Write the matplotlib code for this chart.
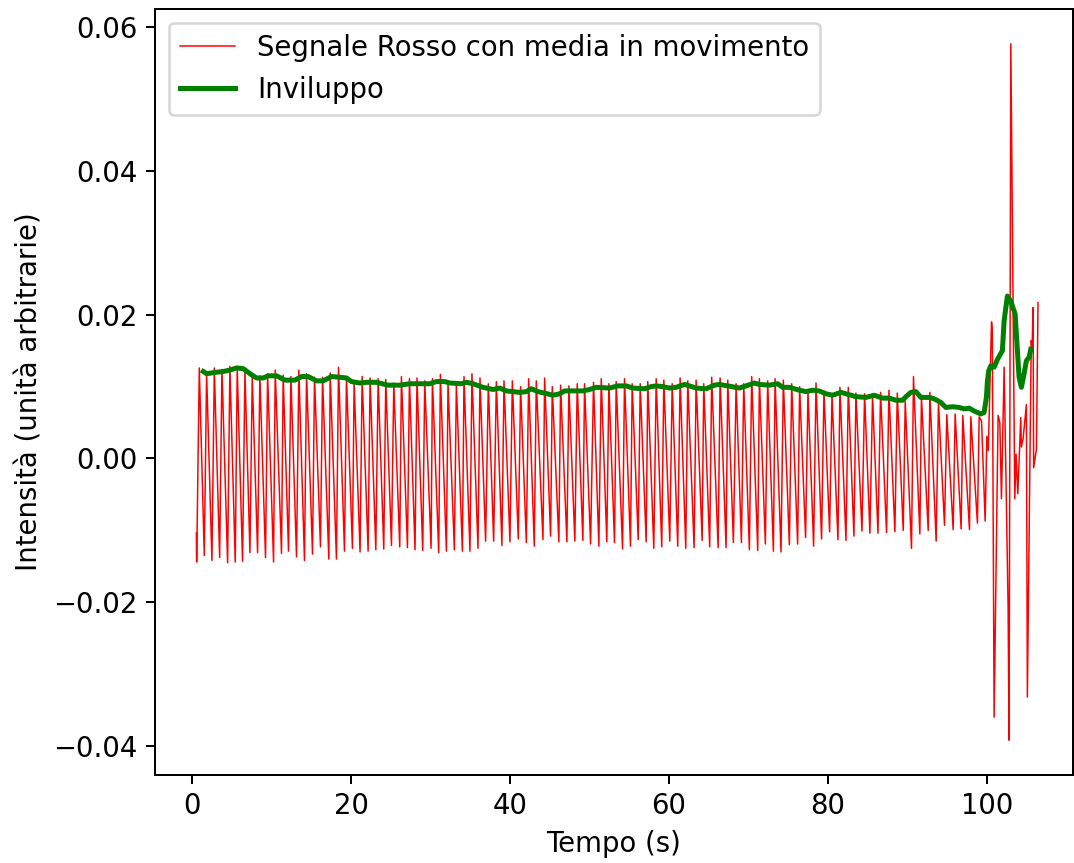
import numpy as np
import matplotlib
matplotlib.use("Agg")
import matplotlib.pyplot as plt

plt.rcParams['font.size'] = 11

# picchi e minimi del segnale rosso (tempo in s, intensita')
t_picchi = [0.92, 1.84, 2.81, 3.77, 4.77, 5.69, 6.66, 7.58, 8.54, 9.51,
            10.47, 11.47, 12.44, 13.44, 14.41, 15.41, 16.42, 17.38, 18.43, 19.43,
            20.39, 21.40, 22.40, 23.41, 24.37, 25.38, 26.34, 27.35, 28.30, 29.27,
            30.24, 31.24, 32.20, 33.25, 34.21, 35.21, 36.22, 37.27, 38.28, 39.24,
            40.29, 41.33, 42.34, 43.30, 44.35, 45.31, 46.36, 47.40, 48.45, 49.37,
            50.50, 51.47, 52.43, 53.35, 54.40, 55.36, 56.37, 57.32, 58.38, 59.34,
            60.39, 61.39, 62.35, 63.40, 64.36, 65.36, 66.42, 67.38, 68.43, 69.39,
            70.39, 71.36, 72.40, 73.33, 74.37, 75.42, 76.42, 77.47, 78.48, 79.48,
            80.49, 81.49, 82.54, 83.50, 84.59, 85.59, 86.60, 87.65, 88.70, 89.70,
            90.74, 91.74, 92.80, 93.88, 94.93, 95.98, 96.94, 97.95, 99.00]
v_picchi = [0.0126, 0.0119, 0.0126, 0.0124, 0.0128, 0.0126, 0.0121, 0.0114, 0.0115, 0.0118,
            0.0123, 0.0116, 0.0114, 0.0123, 0.0118, 0.0113, 0.0113, 0.0119, 0.0127, 0.0114,
            0.0105, 0.0114, 0.0112, 0.0111, 0.0110, 0.0105, 0.0114, 0.0111, 0.0112, 0.0108,
            0.0111, 0.0117, 0.0105, 0.0104, 0.0114, 0.0118, 0.0112, 0.0104, 0.0107, 0.0108,
            0.0108, 0.0100, 0.0111, 0.0108, 0.0112, 0.0100, 0.0102, 0.0101, 0.0104, 0.0104,
            0.0106, 0.0111, 0.0104, 0.0107, 0.0111, 0.0104, 0.0104, 0.0107, 0.0111, 0.0109,
            0.0104, 0.0112, 0.0108, 0.0109, 0.0104, 0.0113, 0.0112, 0.0109, 0.0104, 0.0104,
            0.0114, 0.0111, 0.0108, 0.0111, 0.0109, 0.0104, 0.0100, 0.0094, 0.0105, 0.0094,
            0.0089, 0.0099, 0.0099, 0.0091, 0.0090, 0.0088, 0.0092, 0.0095, 0.0091, 0.0080,
            0.0114, 0.0085, 0.0092, 0.0078, 0.0061, 0.0062, 0.0060, 0.0058, 0.0058]

t_minimi = [0.59, 1.55, 2.51, 3.48, 4.48, 5.44, 6.36, 7.29, 8.25, 9.25,
            10.26, 11.26, 12.14, 13.15, 14.15, 15.16, 16.16, 17.21, 18.17, 19.18,
            20.18, 21.14, 22.15, 23.12, 24.12, 25.09, 26.13, 27.10, 28.05, 29.02,
            30.07, 31.03, 32.00, 33.00, 34.01, 34.96, 35.97, 36.93, 37.94, 38.98,
            39.99, 41.04, 42.05, 43.05, 44.14, 45.10, 46.14, 47.15, 48.15, 49.16,
            50.13, 51.17, 52.17, 53.14, 54.15, 55.15, 56.12, 57.12, 58.08, 59.08,
            60.09, 61.09, 62.10, 63.15, 64.16, 65.11, 66.17, 67.17, 68.09, 69.10,
            70.10, 71.15, 72.11, 73.12, 74.08, 75.13, 76.17, 77.17, 78.18, 79.18,
            80.19, 81.24, 82.25, 83.25, 84.26, 85.26, 86.27, 87.35, 88.40, 89.45,
            90.49, 91.54, 92.59, 93.59, 94.64, 95.73, 96.73, 97.78, 98.78]
v_minimi = [-0.0144, -0.0135, -0.0142, -0.0138, -0.0145, -0.0144, -0.0143, -0.0131, -0.0131, -0.0138,
            -0.0144, -0.0132, -0.0129, -0.0137, -0.0142, -0.0133, -0.0123, -0.0140, -0.0140, -0.0129,
            -0.0125, -0.0130, -0.0129, -0.0127, -0.0126, -0.0121, -0.0123, -0.0124, -0.0127, -0.0128,
            -0.0125, -0.0131, -0.0129, -0.0127, -0.0129, -0.0129, -0.0125, -0.0115, -0.0115, -0.0121,
            -0.0116, -0.0112, -0.0117, -0.0122, -0.0113, -0.0108, -0.0116, -0.0116, -0.0115, -0.0114,
            -0.0119, -0.0122, -0.0116, -0.0117, -0.0126, -0.0122, -0.0113, -0.0116, -0.0125, -0.0123,
            -0.0115, -0.0122, -0.0125, -0.0124, -0.0114, -0.0123, -0.0124, -0.0124, -0.0117, -0.0117,
            -0.0127, -0.0128, -0.0119, -0.0129, -0.0130, -0.0120, -0.0119, -0.0110, -0.0122, -0.0112,
            -0.0102, -0.0113, -0.0114, -0.0108, -0.0101, -0.0104, -0.0104, -0.0103, -0.0102, -0.0100,
            -0.0125, -0.0105, -0.0100, -0.0115, -0.0093, -0.0099, -0.0098, -0.0099, -0.0090]

# inizio e parte finale irregolare del segnale
t_extra = [0.55, 99.30, 99.75, 99.97, 100.15, 100.55, 100.65, 100.88, 101.38, 101.60,
           101.80, 102.14, 102.64, 102.76, 102.98, 103.48, 103.64, 103.86, 104.23, 104.31,
           104.52, 104.94, 105.06, 105.55, 105.65, 105.78, 105.85, 106.20, 106.40]
v_extra = [-0.0104, 0.0052, -0.0087, 0.0031, 0.0011, 0.0190, 0.0180, -0.0360, 0.0060, 0.0050,
           -0.0056, 0.0127, -0.0207, -0.0392, 0.0577, -0.0056, 0.0006, -0.0049, 0.0057, 0.0016,
           0.0027, 0.0075, -0.0332, 0.0164, 0.0150, 0.0210, -0.0013, 0.0013, 0.0217]

# inviluppo
t_inv = [1.42, 1.84, 3.10, 3.94, 4.77, 5.61, 6.45, 7.29, 8.12, 8.96, 9.59, 10.64, 11.68, 12.94,
         13.78, 14.61, 15.66, 16.50, 17.55, 18.59, 19.43, 20.06, 21.10, 21.95, 23.20, 24.66,
         26.13, 27.39, 29.06, 29.90, 30.74, 31.78, 32.41, 33.88, 34.51, 35.34, 36.60, 37.85,
         38.69, 39.53, 40.37, 41.21, 42.05, 42.68, 43.51, 44.35, 45.39, 46.23, 46.86, 47.70,
         49.16, 50.00, 50.84, 52.51, 53.56, 54.61, 55.44, 56.91, 57.75, 58.38, 59.21, 60.05,
         60.89, 61.93, 62.56, 63.40, 64.66, 65.70, 66.33, 67.38, 68.84, 69.68, 70.73, 71.36,
         72.61, 73.66, 74.29, 75.13, 76.38, 77.22, 78.05, 78.89, 79.73, 80.56, 81.62, 82.25,
         83.50, 84.76, 85.80, 86.85, 87.69, 88.53, 89.36, 89.79, 90.41, 91.04, 91.67, 92.71,
         93.34, 94.18, 94.81, 95.64, 96.48, 97.11, 97.74, 98.37, 99.20, 99.62, 99.91, 100.04,
         100.20, 100.46, 100.88, 101.30, 101.92, 102.14, 102.55, 102.97, 103.52, 103.81,
         104.02, 104.31, 104.65, 104.94, 105.28, 105.49]
v_inv = [0.0121, 0.0118, 0.0120, 0.0121, 0.0123, 0.0126, 0.0125, 0.0118, 0.0112, 0.0112, 0.0115,
         0.0115, 0.0109, 0.0109, 0.0114, 0.0114, 0.0108, 0.0108, 0.0114, 0.0113, 0.0112, 0.0107,
         0.0105, 0.0106, 0.0106, 0.0102, 0.0102, 0.0104, 0.0104, 0.0104, 0.0107, 0.0107, 0.0105,
         0.0104, 0.0106, 0.0104, 0.0099, 0.0096, 0.0098, 0.0094, 0.0093, 0.0092, 0.0093, 0.0097,
         0.0093, 0.0091, 0.0088, 0.0090, 0.0094, 0.0094, 0.0094, 0.0096, 0.0099, 0.0098, 0.0101,
         0.0101, 0.0098, 0.0097, 0.0100, 0.0101, 0.0100, 0.0098, 0.0099, 0.0103, 0.0101, 0.0098,
         0.0097, 0.0102, 0.0103, 0.0101, 0.0098, 0.0101, 0.0105, 0.0103, 0.0102, 0.0104, 0.0099,
         0.0099, 0.0095, 0.0093, 0.0095, 0.0094, 0.0090, 0.0088, 0.0092, 0.0090, 0.0086, 0.0085,
         0.0088, 0.0084, 0.0084, 0.0081, 0.0081, 0.0086, 0.0092, 0.0093, 0.0085, 0.0085, 0.0083,
         0.0078, 0.0071, 0.0072, 0.0071, 0.0069, 0.0070, 0.0066, 0.0062, 0.0064, 0.0085, 0.0108,
         0.0122, 0.0129, 0.0127, 0.0138, 0.0150, 0.0192, 0.0226, 0.0219, 0.0201, 0.0150, 0.0113,
         0.0099, 0.0118, 0.0136, 0.0141, 0.0152]

# unisco picchi, minimi e punti extra in ordine di tempo
t_sig = np.array(t_picchi + t_minimi + t_extra)
v_sig = np.array(v_picchi + v_minimi + v_extra)
ordine = np.argsort(t_sig)
t_sig = t_sig[ordine]
v_sig = v_sig[ordine]

fig = plt.figure(figsize=(1074 / 180, 863 / 180), dpi=180)
ax = fig.add_axes([155 / 1074, 88 / 863, 918 / 1074, 766 / 863])

ax.plot(t_sig, v_sig, color='red', lw=0.6, label='Segnale Rosso con media in movimento')
ax.plot(t_inv, v_inv, color='green', lw=2.0, label='Inviluppo')

ax.set_xlim(-4.65, 110.8)
ax.set_xlabel('Tempo (s)')
ax.set_ylabel('Intensità (unità arbitrarie)')
ax.legend(loc='upper left')

fig.savefig('out.png', dpi=180)
